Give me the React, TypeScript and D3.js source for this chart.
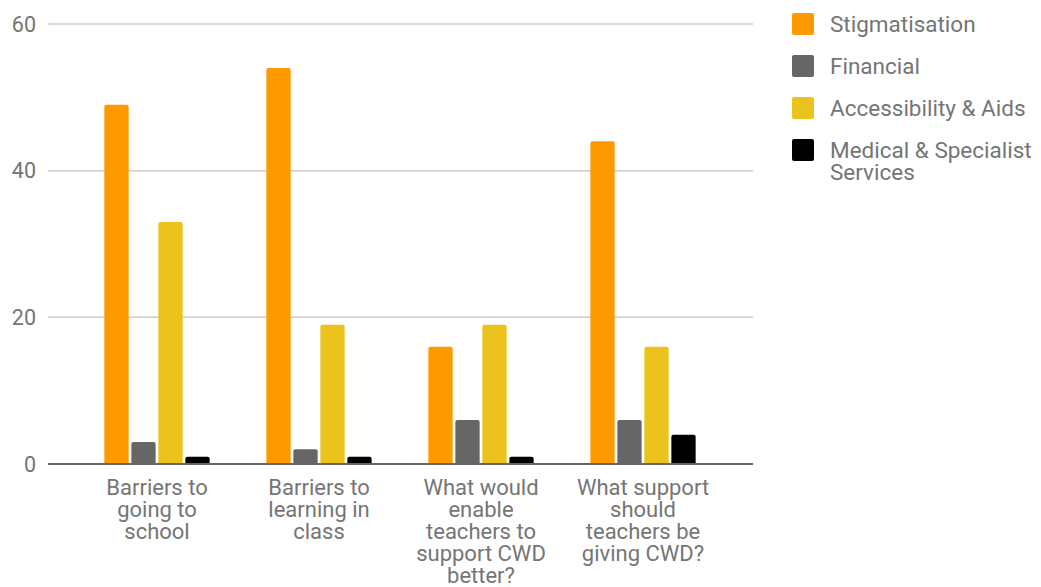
import React from "react";
import * as d3 from "d3";

const categories = [
  ["Barriers to", "going to", "school"],
  ["Barriers to", "learning in", "class"],
  ["What would", "enable", "teachers to", "support CWD", "better?"],
  ["What support", "should", "teachers be", "giving CWD?"],
];
const seriesNames = ["Stigmatisation", "Financial", "Accessibility & Aids", "Medical & Specialist Services"];
const legendLines = [["Stigmatisation"], ["Financial"], ["Accessibility & Aids"], ["Medical & Specialist", "Services"]];
const stigmatisation = [49, 54, 16, 44];
const financial = [3, 2, 6, 6];
const accessibility = [33, 19, 19, 16];
const medical = [1, 1, 1, 4];
const yTicks = [0, 20, 40, 60];
const colors = ["#FF9900", "#666666", "#ECC21C", "#000000"];

const series = [stigmatisation, financial, accessibility, medical];

function roundedTop(x: number, y: number, w: number, h: number, r: number) {
  const rr = Math.min(r, h, w / 2);
  return `M${x},${y + h}V${y + rr}Q${x},${y} ${x + rr},${y}H${x + w - rr}Q${x + w},${y} ${x + w},${y + rr}V${y + h}Z`;
}

export default function App() {
  const W = 1041, H = 587;
  const y = d3.scaleLinear().domain([0, 60]).range([464, 24]);
  const x0 = d3.scaleBand<number>().domain(d3.range(categories.length)).range([76, 724]).paddingInner(0.35).paddingOuter(0.175);
  const x1 = d3.scaleBand<number>().domain(d3.range(series.length)).range([0, x0.bandwidth()]).paddingInner(0.1);
  const font = "Roboto, Arial, sans-serif";
  const textColor = "#757575";
  return (
    <svg width={W} height={H} style={{ position: "absolute", left: 0, top: 0 }} fontFamily={font}>
      {yTicks.map((t) => (
        <g key={t}>
          {t !== 0 && <line x1={48} x2={753} y1={y(t)} y2={y(t)} stroke="#cccccc" strokeWidth={1.5} />}
          <text x={36} y={y(t)} dy="0.35em" textAnchor="end" fontSize={21.5} fill={textColor}>{t}</text>
        </g>
      ))}
      {categories.map((c, i) => (
        <g key={i}>
          {series.map((s, j) => {
            const bx = (x0(i) as number) + (x1(j) as number);
            const by = y(s[i]);
            return <path key={j} d={roundedTop(bx, by, x1.bandwidth(), y(0) - by, 2)} fill={colors[j]} />;
          })}
          <text x={(x0(i) as number) + x0.bandwidth() / 2} y={495} textAnchor="middle" fontSize={22} fill={textColor}>
            {c.map((l, k) => (
              <tspan key={k} x={(x0(i) as number) + x0.bandwidth() / 2} dy={k === 0 ? 0 : 22}>{l}</tspan>
            ))}
          </text>
        </g>
      ))}
      <line x1={48} x2={753} y1={y(0)} y2={y(0)} stroke="#666666" strokeWidth={2} />
      {seriesNames.map((n, i) => (
        <g key={n} transform={`translate(0, ${24 + i * 42})`}>
          <rect x={792} y={-11} width={22} height={22} rx={2} fill={colors[i]} />
          <text x={830} y={0} fontSize={22.5} fill={textColor}>
            {legendLines[i].map((l, k) => (
              <tspan key={k} x={830} dy={k === 0 ? "0.35em" : 22}>{l}</tspan>
            ))}
          </text>
        </g>
      ))}
    </svg>
  );
}
